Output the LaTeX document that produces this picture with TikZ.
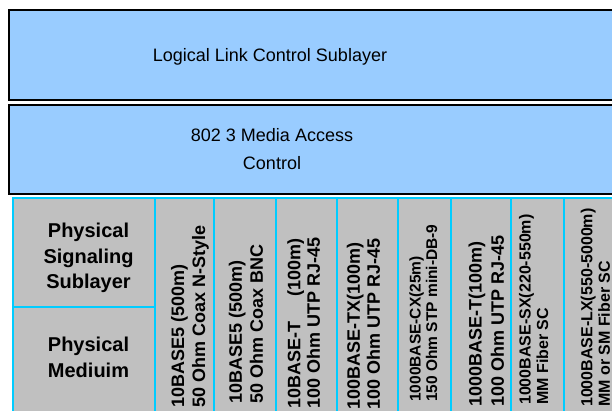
\documentclass[tikz,border=0pt]{standalone}
\usepackage{fontspec}
\setmainfont{Liberation Sans}
\usepackage{tikz}
\usepackage{xcolor}
\definecolor{layerblue}{HTML}{99CCFF}
\definecolor{cellgray}{HTML}{C0C0C0}
\definecolor{gridcyan}{HTML}{00CCFF}
\tikzset{layer/.style={rectangle, draw=black, line width=2pt, fill=layerblue, inner sep=0pt}}
\tikzset{cell/.style={rectangle, draw=gridcyan, line width=2pt, fill=cellgray, inner sep=0pt}}
\tikzset{medium/.style={rotate=90, anchor=west, align=left, inner sep=0pt, font=\bfseries\fontsize{18}{21}\selectfont}}
\tikzset{thinmedium/.style={medium, font=\bfseries\fontsize{16}{17.5}\selectfont}}
\tikzset{sublayer/.style={align=center, inner sep=0pt, font=\bfseries\fontsize{20}{25.5}\selectfont}}

\begin{document}
\begin{tikzpicture}[x=1pt, y=-1pt]
  \useasboundingbox (0,0) rectangle (612,410);
  \clip (0,0) rectangle (612,410);

  \node[layer, minimum width=631pt, minimum height=89.2pt] (llc) at (324.6, 54.9) {};
  \node[layer, minimum width=631pt, minimum height=89.3pt] (mac) at (324.6, 149.15) {};
  \node[anchor=base, inner sep=0pt, font=\fontsize{18}{21}\selectfont] (llctext) at (270, 61.5) {Logical Link Control Sublayer};
  \node[align=center, inner sep=0pt, font=\fontsize{18}{27.5}\selectfont] (mactext) at (272, 149.2) {802 3 Media Access\\Control};

  \node[cell, minimum width=142.3pt, minimum height=108.4pt] (pss) at (83.85, 252.5) {};
  \node[cell, minimum width=142.3pt, minimum height=123.3pt] (pm) at (83.85, 368.35) {};
  \node[sublayer] (psstext) at (88.5, 258.3) {Physical\\Signaling\\Sublayer};
  \node[sublayer] (pmtext) at (88.5, 357.2) {Physical\\Mediuim};

  \node[cell, minimum width=59pt, minimum height=231.7pt] (c1) at (184.5, 314.15) {};
  \node[cell, minimum width=62pt, minimum height=231.7pt] (c2) at (245, 314.15) {};
  \node[cell, minimum width=61pt, minimum height=231.7pt] (c3) at (306.5, 314.15) {};
  \node[cell, minimum width=60.5pt, minimum height=231.7pt] (c4) at (367.25, 314.15) {};
  \node[cell, minimum width=53pt, minimum height=231.7pt] (c5) at (424, 314.15) {};
  \node[cell, minimum width=60pt, minimum height=231.7pt] (c6) at (480.5, 314.15) {};
  \node[cell, minimum width=53pt, minimum height=231.7pt] (c7) at (537.5, 314.15) {};
  \node[cell, minimum width=60pt, minimum height=231.7pt] (c8) at (594, 314.15) {};

  \node[medium] (t1) at (189.9, 408) {10BASE5 (500m)\\50 Ohm Coax N-Style};
  \node[medium] (t2) at (246, 404) {10BASE5 (500m)\\50 Ohm Coax BNC};
  \node[medium, font=\bfseries\fontsize{18}{19.5}\selectfont] (t3) at (303.8, 408.5) {10BASE-T\hspace{25pt}(100m)\\100 Ohm UTP RJ-45};
  \node[medium, font=\bfseries\fontsize{18}{20}\selectfont] (t4) at (363.5, 410) {100BASE-TX(100m)\\100 Ohm UTP RJ-45};
  \node[thinmedium, font=\bfseries\fontsize{15.5}{16.6}\selectfont] (t5) at (423.4, 402) {1000BASE-CX(25m)\\150 Ohm STP mini-DB-9};
  \node[medium, font=\bfseries\fontsize{18}{22.3}\selectfont] (t6) at (486.3, 407) {1000BASE-T(100m)\\100 Ohm UTP RJ-45};
  \node[thinmedium] (t7) at (533.7, 405) {1000BASE-SX(220-550m)\\MM Fiber SC};
  \node[thinmedium] (t8) at (595.3, 407) {1000BASE-LX(550-5000m)\\MM or SM Fiber SC};
\end{tikzpicture}
\end{document}
